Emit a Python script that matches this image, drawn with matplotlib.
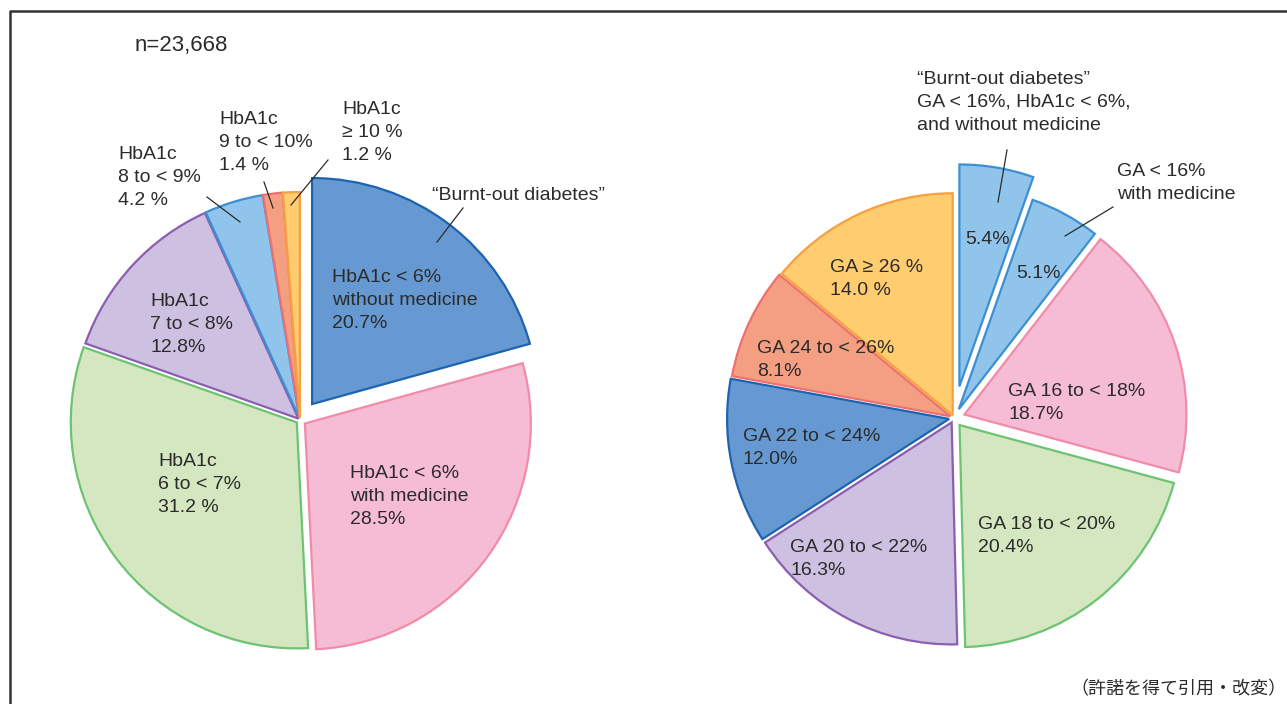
import matplotlib.pyplot as plt

plt.rcParams['font.family'] = ['Liberation Sans', 'Noto Sans CJK JP', 'DejaVu Sans']

# left pie: HbA1c categories (clockwise from top)
hba1c_labels = ['HbA1c < 6%\nwithout medicine', 'HbA1c < 6%\nwith medicine', 'HbA1c\n6 to < 7%',
                'HbA1c\n7 to < 8%', 'HbA1c\n8 to < 9%', 'HbA1c\n9 to < 10%', 'HbA1c\n≥ 10 %']
hba1c_values = [20.7, 28.5, 31.2, 12.8, 4.2, 1.4, 1.2]
hba1c_pct_text = ['20.7%', '28.5%', '31.2 %', '12.8%', '4.2 %', '1.4 %', '1.2 %']

# right pie: GA categories (clockwise from top)
ga_labels = ['GA < 16%\nwithout medicine', 'GA < 16%\nwith medicine', 'GA 16 to < 18%', 'GA 18 to < 20%',
             'GA 20 to < 22%', 'GA 22 to < 24%', 'GA 24 to < 26%', 'GA ≥ 26 %']
ga_values = [5.4, 5.1, 18.7, 20.4, 16.3, 12.0, 8.1, 14.0]
ga_pct_text = ['5.4%', '5.1%', '18.7%', '20.4%', '16.3%', '12.0%', '8.1%', '14.0 %']

n_total = '23,668'

face = {'blue': '#6699d1', 'pink': '#f6bcd6', 'green': '#d4e7c0', 'lav': '#cdc0e0',
        'lblue': '#91c4ea', 'salmon': '#f49f81', 'yellow': '#ffcc70'}
edge = {'blue': '#1e63b0', 'pink': '#f08ca8', 'green': '#6cc373', 'lav': '#8d5db0',
        'lblue': '#3d8fd4', 'salmon': '#ee7070', 'yellow': '#f7a040'}
left_keys = ['blue', 'pink', 'green', 'lav', 'lblue', 'salmon', 'yellow']
right_keys = ['lblue', 'lblue', 'pink', 'green', 'lav', 'blue', 'salmon', 'yellow']

W, H = 1287, 704
fig = plt.figure(figsize=(W / 100, H / 100), dpi=100)
ax = fig.add_axes([0, 0, 1, 1])


def draw_pie(values, keys, center, radius, explode):
    # explode offsets are in pixels here (pie uses data units, 1 unit = 1 px)
    wedges, _ = ax.pie(values, colors=[face[k] for k in keys], startangle=90, counterclock=False,
                       center=(center[0], H - center[1]), radius=radius, explode=explode,
                       wedgeprops=dict(linewidth=1.6))
    for w, k in zip(wedges, keys):
        w.set_edgecolor(edge[k])
    return wedges


draw_pie(hba1c_values, left_keys, (300, 420), 226, [20, 6, 4, 2, 2, 2, 2])
draw_pie(ga_values, right_keys, (954, 418), 222, [32, 10, 11, 9, 5, 5, 4, 3])

ax.set_xlim(0, W)
ax.set_ylim(0, H)
ax.set_aspect('equal')
ax.axis('off')

txt = dict(fontsize=14, color='#2b2b2b', ha='left', va='top', linespacing=1.45)


def label(x, y, s, **kw):
    opts = dict(txt)
    opts.update(kw)
    ax.text(x, H - y - 5, s, **opts)


def leader(x1, y1, x2, y2):
    ax.plot([x1, x2], [H - y1, H - y2], color='#2b2b2b', lw=0.9)


# left pie labels
ax.text(135, H - 45, 'n=' + n_total, fontsize=16, va='center', ha='left', color='#2b2b2b')
label(332, 264, hba1c_labels[0] + '\n' + hba1c_pct_text[0])
label(350, 460, hba1c_labels[1] + '\n' + hba1c_pct_text[1])
label(158, 448, hba1c_labels[2] + '\n' + hba1c_pct_text[2])
label(150, 288, hba1c_labels[3] + '\n' + hba1c_pct_text[3])
label(118, 141, hba1c_labels[4] + '\n' + hba1c_pct_text[4])
label(219, 106, hba1c_labels[5] + '\n' + hba1c_pct_text[5])
label(342, 96, hba1c_labels[6] + '\n' + hba1c_pct_text[6])
label(432, 182, '\u201cBurnt-out diabetes\u201d')
leader(463, 208, 437, 242)
leader(328, 160, 291, 205)
leader(264, 182, 273, 208)
leader(207, 197, 240, 222)

# right pie labels
label(917, 66, '\u201cBurnt-out diabetes\u201d\nGA < 16%, HbA1c < 6%,\nand without medicine')
label(1117, 158, 'GA < 16%\nwith medicine')
label(965, 226, ga_pct_text[0])
label(1016, 260, ga_pct_text[1])
for (x, y), lab, pct in zip([(1008, 378), (978, 511), (790, 534), (743, 423), (757, 335), (830, 254)],
                            ga_labels[2:], ga_pct_text[2:]):
    label(x, y, lab + '\n' + pct)
leader(1007, 150, 998, 202)
leader(1113, 207, 1065, 236)

ax.text(1287, H - 690, '（許諾を得て引用・改変）', fontsize=13, color='#2b2b2b', ha='right', va='center')

# frame on the left and top
ax.plot([10, 10, W], [0, H - 11, H - 11], color='#333333', lw=1.8, clip_on=False)

fig.savefig('out.png', dpi=100)
